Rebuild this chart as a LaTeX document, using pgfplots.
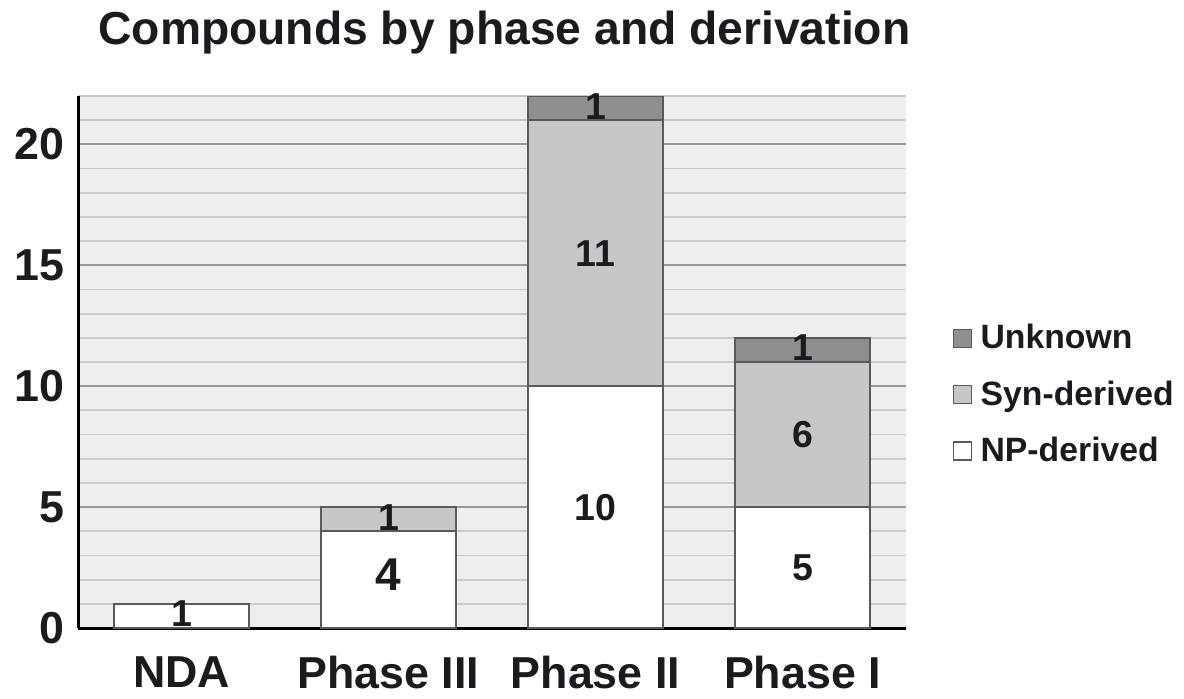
\documentclass[border=0pt]{standalone}
\usepackage{fontspec}
\setmainfont{Liberation Sans}
\usepackage{pgfplots}
\pgfplotsset{compat=1.18}

\definecolor{panel}{HTML}{EDEEF0}
\definecolor{majorgrid}{HTML}{97989A}
\definecolor{minorgrid}{HTML}{C9CACC}
\definecolor{npcol}{HTML}{FFFFFF}
\definecolor{syncol}{HTML}{C6C7C9}
\definecolor{unkcol}{HTML}{8E8F91}
\definecolor{edgecol}{HTML}{5A5A5C}
\definecolor{inktext}{HTML}{1B1B1F}

\pgfplotsset{
  sq/.style={
    legend image code/.code={\draw[##1, line width=0.6pt] (0pt,-3.6pt) rectangle (7.2pt,3.6pt);}
  },
}

\begin{document}
\begin{tikzpicture}
\useasboundingbox (0,0) rectangle (473.6pt,279.2pt);
\begin{axis}[
  at={(31.2pt,28pt)}, anchor=south west,
  scale only axis, width=331.2pt, height=212.8pt,
  ybar stacked, bar width=0.65,
  xmin=-0.5, xmax=3.5, ymin=0, ymax=22,
  xtick={0,1,2,3},
  xticklabels={NDA,Phase III,Phase II,Phase I},
  ytick={0,5,10,15,20},
  minor ytick={1,2,3,4,6,7,8,9,11,12,13,14,16,17,18,19,21,22},
  ymajorgrids, yminorgrids,
  major grid style={draw=majorgrid, line width=0.8pt},
  minor grid style={draw=minorgrid, line width=0.7pt},
  major tick length=0pt, minor tick length=0pt,
  axis x line*=bottom, axis y line*=left,
  axis line style={line width=1.2pt, -, black},
  axis background/.style={fill=panel},
  /pgf/number format/assume math mode=true,
  yticklabel style={font=\fontsize{17.9}{18}\selectfont\bfseries, text=inktext, xshift=-2pt},
  xticklabel style={font=\fontsize{17.9}{18}\selectfont\bfseries, text=inktext, yshift=-7.8pt},
  title={Compounds by phase and derivation},
  title style={at={(0.515,1.069)}, anchor=base, font=\fontsize{18.5}{18.5}\selectfont\bfseries, text=inktext},
  legend style={at={(1.056,0.581)}, anchor=north west, draw=none, fill=none,
    font=\fontsize{13.5}{13.5}\selectfont\bfseries, text=inktext,
    row sep=7.2pt, inner sep=0pt,
    nodes={inner sep=2pt},
    /tikz/every odd column/.append style={column sep=1.3pt}},
  legend cell align=left,
  reverse legend,
]
\addplot[sq, fill=npcol, draw=edgecol, line width=0.8pt]
  coordinates {(0,1) (1,4) (2,10) (3,5)};
\addlegendentry{NP-derived}
\addplot[sq, fill=syncol, draw=edgecol, line width=0.8pt]
  coordinates {(0,0) (1,1) (2,11) (3,6)};
\addlegendentry{Syn-derived}
\addplot[sq, fill=unkcol, draw=edgecol, line width=0.8pt]
  coordinates {(0,0) (1,0) (2,1) (3,1)};
\addlegendentry{Unknown}
\end{axis}

% segment labels, set at the middle of each segment
\begin{axis}[
  at={(31.2pt,28pt)}, anchor=south west,
  scale only axis, width=331.2pt, height=212.8pt,
  xmin=-0.5, xmax=3.5, ymin=0, ymax=22,
  hide axis, clip=false,
]
\addplot[draw=none, mark=none, nodes near coords, point meta=explicit symbolic,
  nodes near coords align={center},
  every node near coord/.append style={font=\fontsize{15}{15}\selectfont\bfseries, text=inktext, inner sep=0pt}]
  coordinates {(0,0.58) [1] (1,4.58) [1] (2,5) [10] (2,15.5) [11] (2,21.58) [1]
               (3,2.5) [5] (3,8) [6] (3,11.58) [1]};
\addplot[draw=none, mark=none, nodes near coords, point meta=explicit symbolic,
  nodes near coords align={center},
  every node near coord/.append style={font=\fontsize{18.4}{18.4}\selectfont\bfseries, text=inktext, inner sep=0pt}]
  coordinates {(1,2.2) [4]};
\end{axis}
\end{tikzpicture}
\end{document}
